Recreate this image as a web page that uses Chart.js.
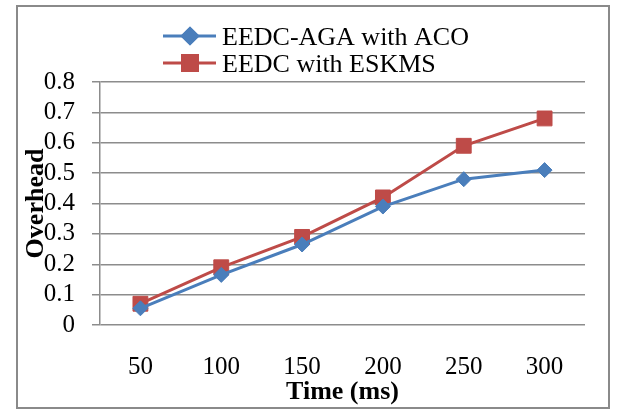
<!DOCTYPE html>
<html>
<head>
<meta charset="utf-8">
<style>
  html, body { margin: 0; padding: 0; background: #fff; }
  #wrap { width: 617px; height: 412px; }
</style>
<script src="https://cdn.jsdelivr.net/npm/chart.js@4/dist/chart.umd.min.js"></script>
</head>
<body>
<div id="wrap"><canvas id="myChart" width="617" height="412"></canvas></div>
<script>
const times = ["50", "100", "150", "200", "250", "300"];
const aga = [0.055, 0.165, 0.265, 0.39, 0.48, 0.51];
const eskms = [0.07, 0.19, 0.29, 0.42, 0.59, 0.68];

const serif = "'Liberation Serif', 'Times New Roman', serif";
const gridGray = "#8c8c8c";

// frame around the whole chart, like the Excel export
const framePlugin = {
  id: "frame",
  beforeDraw(chart) {
    const c = chart.ctx;
    c.save();
    c.fillStyle = "#fff";
    c.fillRect(0, 0, chart.width, chart.height);
    c.strokeStyle = "#8a8a8a";
    c.lineWidth = 2;
    c.strokeRect(17, 6, 592, 402);
    c.restore();
  },
};

// two-row legend at the top, drawn from the datasets
const stackedLegend = {
  id: "stackedLegend",
  afterDraw(chart) {
    const c = chart.ctx;
    const rows = [36, 63];
    c.save();
    chart.data.datasets.forEach((ds, i) => {
      const y = rows[i];
      c.strokeStyle = ds.borderColor;
      c.lineWidth = 3;
      c.beginPath();
      c.moveTo(163, y);
      c.lineTo(216, y);
      c.stroke();
      Chart.helpers.drawPoint(c, {
        pointStyle: ds.pointStyle,
        radius: ds.pointRadius,
        borderWidth: 1,
      }, 190, y);
      c.fillStyle = ds.backgroundColor;
      c.strokeStyle = ds.borderColor;
      c.fill();
      c.stroke();
      c.fillStyle = "#000";
      c.font = "26px " + serif;
      c.textBaseline = "middle";
      c.fillText(ds.label, 222, y + 2);
    });
    c.restore();
  },
};

const ctx = document.getElementById("myChart");

new Chart(ctx, {
  type: "line",
  data: {
    labels: times,
    datasets: [
      {
        label: "EEDC-AGA with ACO",
        data: aga,
        borderColor: "#4A7EBB",
        backgroundColor: "#4A7EBB",
        borderWidth: 3,
        pointStyle: "rectRot",
        pointRadius: 7.5,
        pointBorderWidth: 1,
        tension: 0,
      },
      {
        label: "EEDC with ESKMS",
        data: eskms,
        borderColor: "#BE4B48",
        backgroundColor: "#BE4B48",
        borderWidth: 3,
        pointStyle: "rect",
        pointRadius: 10.5,
        pointBorderWidth: 1,
        tension: 0,
      },
    ],
  },
  options: {
    responsive: false,
    animation: false,
    layout: {
      padding: { top: 82, right: 32, bottom: 0, left: 0 },
    },
    plugins: {
      legend: { display: false },
      tooltip: { enabled: false },
    },
    scales: {
      y: {
        min: 0,
        max: 0.8,
        afterFit(scale) {
          scale.width = 100;
        },
        ticks: {
          count: 9,
          autoSkip: false,
          padding: 17,
          color: "#000",
          font: { family: serif, size: 25, lineHeight: 1 },
          callback: (v) => (Math.round(v * 10) / 10).toString(),
        },
        grid: {
          color: gridGray,
          lineWidth: 1.5,
          tickLength: 8,
        },
        border: { color: gridGray, width: 1.5 },
        title: {
          display: true,
          text: "Overhead",
          color: "#000",
          font: { family: serif, size: 26, weight: "bold" },
          padding: { top: 21, bottom: 0 },
        },
      },
      x: {
        offset: true,
        afterFit(scale) {
          scale.height = 87;
        },
        ticks: {
          padding: 19,
          color: "#000",
          font: { family: serif, size: 25 },
        },
        grid: { display: false },
        border: { display: false },
        title: {
          display: true,
          text: "Time (ms)",
          color: "#000",
          font: { family: serif, size: 26, weight: "bold" },
          padding: { top: 0, bottom: 4 },
        },
      },
    },
  },
  plugins: [framePlugin, stackedLegend],
});
</script>
</body>
</html>
